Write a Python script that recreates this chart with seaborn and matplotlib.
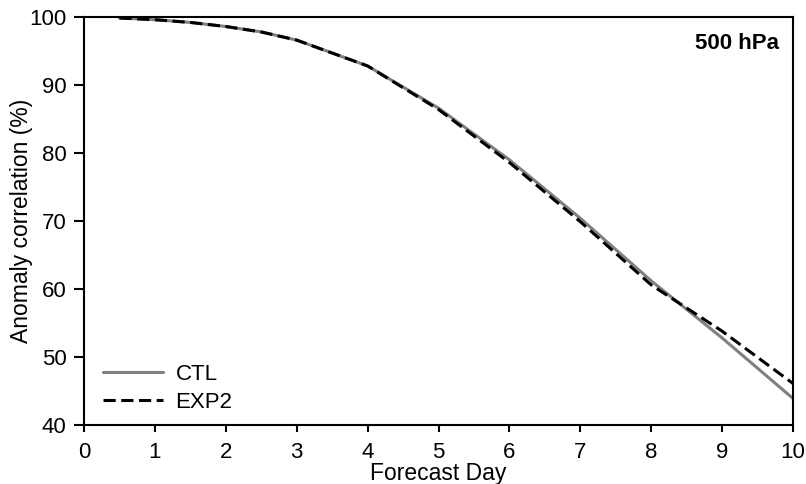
import matplotlib
matplotlib.use("Agg")
import matplotlib.pyplot as plt
import seaborn as sns
import pandas as pd

days = [0.5, 1, 1.5, 2, 2.5, 3, 4, 5, 6, 7, 8, 9, 10]
ctl = [99.85, 99.6, 99.2, 98.6, 97.8, 96.6, 92.8, 86.6, 79.0, 70.4, 61.2, 52.8, 43.9]
exp2 = [99.85, 99.6, 99.2, 98.6, 97.8, 96.6, 92.8, 86.4, 78.6, 69.9, 60.6, 53.8, 46.1]
series_names = ["CTL", "EXP2"]

df = pd.DataFrame({
    "day": days * 2,
    "ac": ctl + exp2,
    "exp": [series_names[0]] * len(days) + [series_names[1]] * len(days),
})

sns.set_theme(style="ticks")
plt.rcParams["font.family"] = ["Liberation Sans", "DejaVu Sans"]
plt.rcParams["text.color"] = "black"
plt.rcParams["axes.labelcolor"] = "black"
plt.rcParams["xtick.color"] = "black"
plt.rcParams["ytick.color"] = "black"
plt.rcParams["axes.edgecolor"] = "black"

fig = plt.figure(figsize=(8.06, 4.84), dpi=100)
ax = fig.add_axes([0.1042, 0.1219, 0.8797, 0.8430])

sns.lineplot(data=df, x="day", y="ac", hue="exp", style="exp",
             palette={"CTL": "#808080", "EXP2": "black"},
             dashes={"CTL": "", "EXP2": (4.0, 1.8)},
             linewidth=2.2, ax=ax)

ax.set_xlim(0, 10)
ax.set_ylim(40, 100)
ax.set_xticks(range(0, 11))
ax.set_yticks(range(40, 101, 10))
ax.tick_params(axis="both", direction="out", width=1.5,
               labelsize=16, color="black", labelcolor="black")
ax.tick_params(axis="x", length=5, pad=7)
ax.tick_params(axis="y", length=7.5, pad=5)
for s in ax.spines.values():
    s.set_linewidth(1.5)
    s.set_color("black")
    s.set_visible(True)

ax.set_xlabel("Forecast Day", fontsize=16.5, labelpad=-0.5, color="black")
ax.set_ylabel("Anomaly correlation (%)", fontsize=16.5, labelpad=-2.5, color="black")

ax.text(0.98, 0.96, "500 hPa", transform=ax.transAxes, ha="right", va="top",
        fontsize=16, fontweight="bold", color="black")

leg = ax.legend(loc="lower left", frameon=False, fontsize=16,
                handlelength=2.7, handletextpad=0.55, labelspacing=0.3,
                borderaxespad=0.15, bbox_to_anchor=(0.01, 0.0))
for h in leg.get_lines():
    h.set_linewidth(2.2)
for t in leg.get_texts():
    t.set_color("black")

fig.savefig("out.png", dpi=100)
